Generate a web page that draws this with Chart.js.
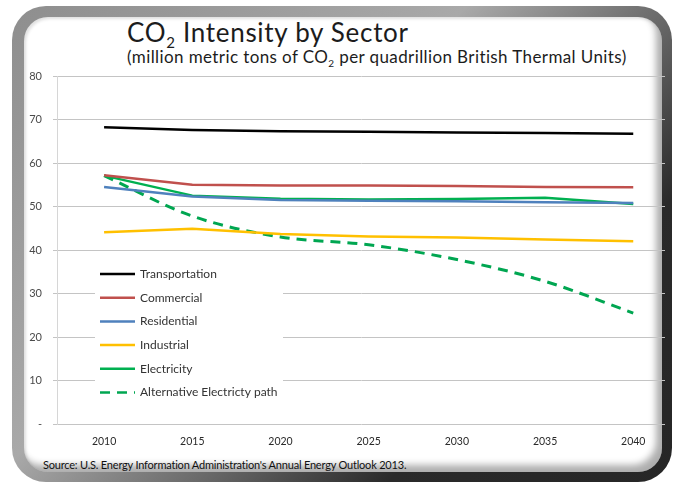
<!DOCTYPE html>
<html>
<head>
<meta charset="utf-8">
<script src="https://cdn.jsdelivr.net/npm/chart.js@4.4.0/dist/chart.umd.min.js"></script>
<style>
  html, body { margin: 0; padding: 0; background: #fff; }
  #page { position: relative; width: 679px; height: 489px; overflow: hidden; }
  #outer {
    position: absolute; left: 12px; top: 6px; width: 660px; height: 476px;
    border-radius: 34px;
    background: linear-gradient(135deg, #8e8e8e 0%, #a9a9a9 40%, #6a6a6a 58%, #2a2a2a 75%, #262626 100%);
  }
  #inner {
    position: absolute; left: 24px; top: 17px; width: 638px; height: 455px;
    border-radius: 24px; background: #fff;
    box-shadow: inset -6px -7px 7px rgba(0,0,0,0.32), inset 2px 2px 3px rgba(0,0,0,0.12);
  }
  .txt { position: absolute; font-family: Lato, "Open Sans", sans-serif; color: #1c1c1c; white-space: nowrap; }
  #title { left: 127px; top: 16px; font-size: 26px; line-height: 32px; letter-spacing: 0.7px; }
  #title sub { font-size: 15px; vertical-align: -6px; line-height: 0; }
  #subtitle { left: 127px; top: 47px; font-size: 17px; line-height: 20px; letter-spacing: 0.4px; }
  #subtitle sub { font-size: 10px; vertical-align: -4px; line-height: 0; }
  #source { left: 43px; top: 457px; font-size: 11px; line-height: 16px; letter-spacing: -0.2px; color: #111; }
  canvas { position: absolute; left: 0; top: 0; }
</style>
</head>
<body>
<div id="page">
  <div id="outer"></div>
  <div id="inner"></div>
  <div class="txt" id="title">CO<sub>2</sub> Intensity by Sector</div>
  <div class="txt" id="subtitle">(million metric tons of CO<sub>2</sub> per quadrillion British Thermal Units)</div>
  <div class="txt" id="source">Source: U.S. Energy Information Administration's Annual Energy Outlook 2013.</div>
  <canvas id="mychart" width="679" height="489"></canvas>
</div>
<script>
// years along the x axis
var years = [2010, 2015, 2020, 2025, 2030, 2035, 2040];
var yTicks = [0, 10, 20, 30, 40, 50, 60, 70, 80];

var transportation = [68.2, 67.6, 67.3, 67.2, 67.0, 66.9, 66.7];
var commercial     = [57.2, 55.0, 54.8, 54.8, 54.7, 54.5, 54.4];
var residential    = [54.5, 52.3, 51.5, 51.3, 51.2, 51.0, 50.8];
var industrial     = [44.1, 44.9, 43.7, 43.1, 42.9, 42.4, 42.0];
var electricity    = [57.1, 52.5, 51.8, 51.6, 51.7, 52.0, 50.6];
var altElectricity = [57.1, 47.8, 43.0, 41.2, 37.8, 32.8, 25.5];

function pts(values) {
    return values.map(function (v, i) { return { x: years[i], y: v }; });
}

function series(label, values, color, dashed) {
    return {
        label: label,
        data: pts(values),
        borderColor: color,
        backgroundColor: color,
        borderWidth: dashed ? 3 : 2.5,
        borderDash: dashed ? [10, 7] : [],
        pointRadius: 0,
        cubicInterpolationMode: dashed ? 'monotone' : 'default',
        tension: 0,
        fill: false
    };
}

// legend drawn inside the plot, over a white box
var innerLegend = {
    id: 'innerLegend',
    afterDatasetsDraw: function (chart) {
        var ctx = chart.ctx;
        var a = chart.chartArea;
        var x0 = a.left + 38, y0 = 256;
        ctx.save();
        ctx.fillStyle = '#fff';
        ctx.fillRect(x0, y0, 188, 150);
        ctx.font = '12px Lato, "Open Sans", sans-serif';
        ctx.textBaseline = 'middle';
        chart.data.datasets.forEach(function (ds, i) {
            var y = 274 + i * 23.7;
            ctx.strokeStyle = ds.borderColor;
            ctx.lineWidth = 2.5;
            ctx.setLineDash(ds.borderDash || []);
            ctx.beginPath();
            ctx.moveTo(x0 + 5, y);
            ctx.lineTo(x0 + 40, y);
            ctx.stroke();
            ctx.setLineDash([]);
            ctx.fillStyle = '#333';
            ctx.fillText(ds.label, x0 + 45, y);
        });
        ctx.restore();
    }
};

var ctx = document.getElementById('mychart').getContext('2d');
var mychart = new Chart(ctx, {
    type: 'line',
    data: {
        datasets: [
            series('Transportation', transportation, '#000000', false),
            series('Commercial', commercial, '#C0504D', false),
            series('Residential', residential, '#4F81BD', false),
            series('Industrial', industrial, '#FFC000', false),
            series('Electricity', electricity, '#00B050', false),
            series('Alternative Electricty path', altElectricity, '#00A651', true)
        ]
    },
    plugins: [innerLegend],
    options: {
        responsive: false,
        animation: false,
        layout: { padding: { left: 12, right: 14, top: 76, bottom: 40 } },
        plugins: {
            legend: { display: false },
            tooltip: { enabled: false },
            title: { display: false }
        },
        scales: {
            x: {
                type: 'linear',
                min: 2007.33,
                max: 2041.8,
                afterBuildTicks: function (scale) {
                    scale.ticks = years.map(function (v) { return { value: v }; });
                },
                afterFit: function (scale) { scale.height = 25; },
                grid: { display: false },
                border: { display: false },
                ticks: {
                    callback: function (v) { return String(v); },
                    color: '#2a2a2a',
                    font: { family: 'Lato, "Open Sans", sans-serif', size: 10.5 },
                    padding: 3,
                    maxRotation: 0
                }
            },
            y: {
                min: 0,
                max: 80,
                afterBuildTicks: function (scale) {
                    scale.ticks = yTicks.map(function (v) { return { value: v }; });
                },
                afterFit: function (scale) { scale.width = 45; },
                grid: { color: '#c4c4c4', lineWidth: 1, tickLength: 4 },
                border: { display: true, color: '#d6d6d6' },
                ticks: {
                    callback: function (v) { return v === 0 ? '-' : v; },
                    color: '#4a4a4a',
                    font: { family: 'Lato, "Open Sans", sans-serif', size: 11 },
                    padding: 11
                }
            }
        }
    }
});
</script>
</body>
</html>
